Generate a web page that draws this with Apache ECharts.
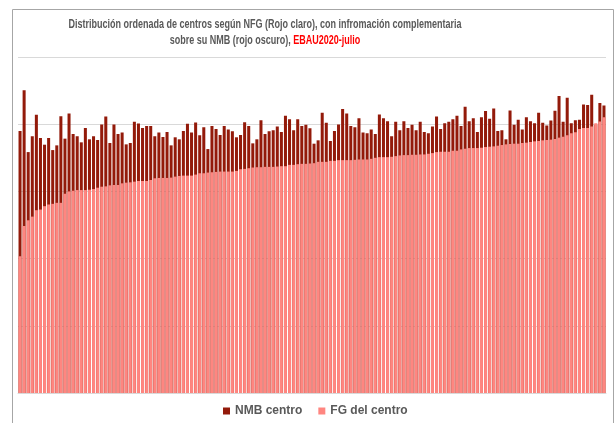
<!DOCTYPE html>
<html>
<head>
<meta charset="utf-8">
<script src="https://cdn.jsdelivr.net/npm/echarts@6/dist/echarts.min.js"></script>
<style>
  html, body { margin: 0; padding: 0; background: #ffffff; }
  #chart { width: 615px; height: 423px; }
</style>
</head>
<body>
<div id="chart"></div>
<script>
// Centres ordered by their final grade (NFG); NMB shown behind each bar.
const nmbCentro = [
  7.80, 9.01, 7.17, 7.64, 8.28, 7.59, 7.39, 7.59, 7.23, 7.37, 8.24, 7.57, 8.32, 7.71, 7.64, 7.46,
  7.89, 7.55, 7.64, 7.53, 7.99, 8.23, 7.44, 7.99, 7.71, 7.75, 7.40, 7.44, 8.07, 8.02, 7.89, 7.95,
  7.95, 7.64, 7.75, 7.62, 7.77, 7.37, 7.61, 7.55, 7.80, 8.01, 7.75, 8.05, 7.67, 7.91, 7.26, 7.95,
  7.86, 7.68, 7.95, 7.84, 7.79, 7.61, 7.68, 8.06, 7.95, 7.43, 7.55, 8.12, 7.71, 7.79, 7.82, 7.93,
  7.77, 8.25, 8.15, 7.82, 8.15, 7.95, 7.98, 7.88, 7.42, 7.52, 8.34, 8.04, 7.50, 7.80, 7.99, 8.45,
  8.32, 7.95, 7.91, 8.18, 7.75, 7.73, 7.84, 7.71, 8.29, 8.18, 8.09, 7.64, 8.07, 7.82, 8.09, 7.89,
  7.98, 7.82, 8.07, 7.77, 7.73, 7.93, 8.23, 7.86, 8.03, 8.07, 8.15, 8.25, 7.95, 8.52, 8.09, 8.18,
  7.77, 8.21, 8.39, 8.16, 8.47, 7.80, 7.82, 7.55, 8.41, 7.98, 8.13, 7.84, 8.21, 8.09, 8.03, 8.34,
  8.04, 7.96, 8.11, 8.40, 8.84, 8.07, 8.79, 8.03, 8.12, 8.13, 8.59, 8.57, 8.88, 7.98, 8.63, 8.56
];

const fgCentro = [
  4.07, 4.97, 5.14, 5.25, 5.44, 5.46, 5.56, 5.61, 5.63, 5.66, 5.66, 5.93, 6.00, 6.02, 6.04, 6.04,
  6.04, 6.05, 6.07, 6.11, 6.14, 6.15, 6.18, 6.19, 6.19, 6.24, 6.26, 6.27, 6.29, 6.31, 6.31, 6.31,
  6.34, 6.39, 6.40, 6.40, 6.40, 6.41, 6.44, 6.46, 6.47, 6.47, 6.47, 6.50, 6.54, 6.54, 6.56, 6.57,
  6.58, 6.59, 6.59, 6.59, 6.59, 6.61, 6.66, 6.67, 6.69, 6.71, 6.72, 6.72, 6.73, 6.73, 6.73, 6.74,
  6.75, 6.75, 6.79, 6.79, 6.81, 6.82, 6.82, 6.83, 6.84, 6.88, 6.88, 6.88, 6.91, 6.91, 6.93, 6.93,
  6.93, 6.93, 6.94, 6.95, 6.95, 6.95, 6.97, 7.00, 7.02, 7.02, 7.02, 7.03, 7.05, 7.07, 7.08, 7.08,
  7.09, 7.09, 7.10, 7.10, 7.12, 7.14, 7.17, 7.18, 7.18, 7.18, 7.21, 7.21, 7.25, 7.27, 7.29, 7.29,
  7.29, 7.30, 7.32, 7.33, 7.34, 7.36, 7.38, 7.40, 7.41, 7.42, 7.42, 7.44, 7.45, 7.47, 7.49, 7.50,
  7.52, 7.53, 7.54, 7.56, 7.60, 7.63, 7.67, 7.73, 7.76, 7.86, 7.89, 7.89, 7.93, 8.03, 8.08, 8.21
];

const centros = fgCentro.map((_, i) => String(i + 1));

const axisMin = 0;
const axisMax = 10;
const axisStep = 2;

const darkRed = '#931a0a';
const lightRed = '#ff8680';
const textGrey = '#595959';
const baseFont = "'Liberation Sans', Arial, sans-serif";

const chart = echarts.init(document.getElementById('chart'), null, { renderer: 'canvas' });

// Title lines, horizontally condensed to keep the compact look of the heading
const titleStyle = { fontFamily: baseFont, fontSize: 12, fontWeight: 'bold', fill: textGrey };

chart.setOption({
  animation: false,
  backgroundColor: '#ffffff',
  legend: {
    data: ['NMB centro', 'FG del centro'],
    left: 218,
    top: 400,
    itemWidth: 7,
    itemHeight: 7,
    itemGap: 16,
    icon: 'rect',
    textStyle: { fontFamily: baseFont, fontSize: 12, fontWeight: 'bold', color: textGrey }
  },
  grid: {
    left: 18,
    right: 9,
    top: 57,
    bottom: 30,
    containLabel: false
  },
  xAxis: {
    type: 'category',
    data: centros,
    boundaryGap: true,
    axisLine: { show: true, lineStyle: { color: '#d9d9d9' } },
    axisTick: { show: false },
    axisLabel: { show: false },
    splitLine: { show: false }
  },
  yAxis: {
    type: 'value',
    min: axisMin,
    max: axisMax,
    interval: axisStep,
    axisLine: { show: false },
    axisTick: { show: false },
    axisLabel: { show: false },
    splitLine: { show: true, lineStyle: { color: '#d9d9d9', width: 1 } }
  },
  series: [
    {
      name: 'NMB centro',
      type: 'bar',
      data: nmbCentro,
      barWidth: '74%',
      barGap: '-100%',
      itemStyle: { color: darkRed }
    },
    {
      name: 'FG del centro',
      type: 'bar',
      data: fgCentro,
      barWidth: '74%',
      barGap: '-100%',
      itemStyle: { color: lightRed }
    }
  ],
  graphic: [
    {
      type: 'text',
      x: 265,
      y: 25,
      scaleX: 0.75,
      silent: true,
      style: Object.assign({
        text: 'Distribución ordenada de centros según NFG (Rojo claro), con infromación complementaria',
        align: 'center',
        verticalAlign: 'middle'
      }, titleStyle)
    },
    {
      type: 'text',
      x: 265,
      y: 41,
      scaleX: 0.75,
      silent: true,
      style: {
        text: '{a|sobre su NMB (rojo oscuro), }{b|EBAU2020-julio}',
        align: 'center',
        verticalAlign: 'middle',
        rich: {
          a: { fontFamily: baseFont, fontSize: 12, fontWeight: 'bold', fill: textGrey, color: textGrey },
          b: { fontFamily: baseFont, fontSize: 12, fontWeight: 'bold', fill: '#ff0000', color: '#ff0000' }
        }
      }
    },
    {
      type: 'rect',
      shape: { x: 12.5, y: 9.5, width: 601, height: 430 },
      style: { fill: 'none', stroke: '#a6a6a6', lineWidth: 1 },
      silent: true,
      z: 100
    }
  ]
});
</script>
</body>
</html>
